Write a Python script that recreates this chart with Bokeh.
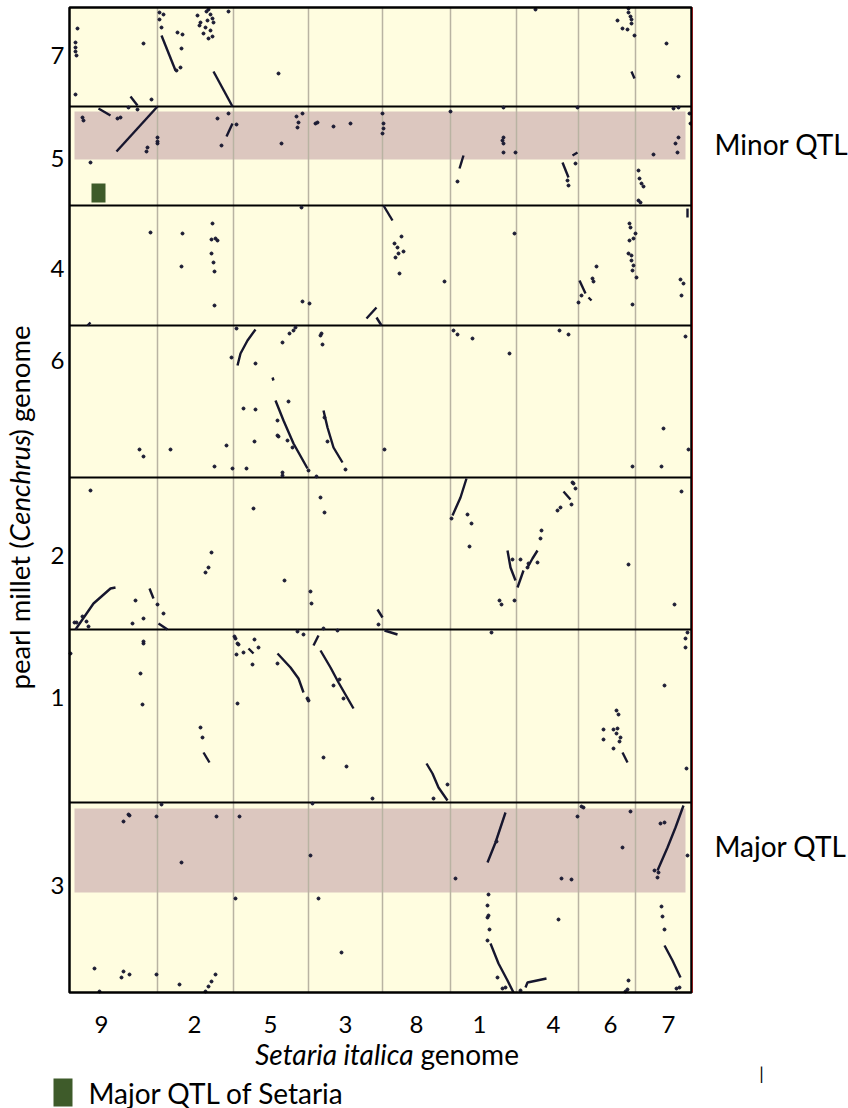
import numpy as np
from bokeh.plotting import figure
from bokeh.models import Range1d
from bokeh.core.properties import value
from bokeh.embed import file_html
from bokeh.resources import INLINE

# ---------------- data ----------------
# Setaria italica chromosomes (x axis, left to right) and lengths (Mb, approx.)
setaria_chroms = ["9", "2", "5", "3", "8", "1", "4", "6", "7"]
setaria_len = [44, 38, 37.5, 37, 34, 33, 31, 28.5, 28]
# Pearl millet chromosomes (y axis, top to bottom) and lengths (Mb, approx.)
millet_chroms = ["7", "5", "4", "6", "2", "1", "3"]
millet_len = [198, 198, 240, 304, 304, 346, 380]

# scattered hits: (setaria chrom, setaria pos Mb, millet pos Mb) per millet chromosome
dots_pm7 = [
    ("9", 3, 70), ("9", 3, 80), ("9", 3, 88), ("9", 3.5, 96), ("9", 4, 42), ("9", 3, 174), ("9", 37, 72), ("9", 41, 184),
    ("2", 1, 10), ("2", 3, 14), ("2", 1, 24), ("2", 2, 40), ("2", 10, 50), ("2", 12.5, 54), ("2", 12, 82), ("2", 11.5, 120), ("2", 9.5, 126),
    ("2", 20, 16), ("2", 21.5, 30), ("2", 21, 36), ("2", 24.5, 8), ("2", 25.5, 4), ("2", 26.5, 14), ("2", 27.5, 22), ("2", 24, 40),
    ("2", 26.5, 46), ("2", 23, 52), ("2", 27.5, 58), ("2", 25.5, 62), ("2", 25, 26), ("2", 28, 30), ("2", 35.5, 8),
    ("5", 22.5, 132), ("4", 9.5, 4),
    ("6", 25, 2), ("6", 25, 10), ("6", 26, 18), ("6", 26.5, 24), ("6", 19.5, 26), ("6", 22, 42), ("6", 24.5, 44), ("6", 26.5, 32), ("6", 28, 56),
    ("7", 15.5, 72), ("7", 21.5, 138),
]
dots_pm5 = [
    ("9", 6.5, 22), ("9", 7, 28), ("9", 25.5, 22), ("9", 24, 24), ("9", 29.5, 2), ("9", 34, 6), ("9", 39, 82), ("9", 38.5, 90),
    ("2", 0, 62), ("2", 0, 70), ("2", 0, 74), ("9", 10.5, 112),
    ("2", 35.5, 14), ("2", 30, 24), ("2", 32, 78), ("5", 1.5, 36), ("5", 24, 74),
    ("5", 31.5, 20), ("5", 32.5, 32), ("5", 32, 42), ("5", 34.5, 14),
    ("3", 3.5, 34), ("3", 4.5, 32), ("3", 12.5, 40), ("3", 21, 34),
    ("8", 0, 14), ("8", 0.5, 34), ("8", 0.5, 44), ("8", 0, 54),
    ("1", 0, 10), ("1", 26.5, 2), ("4", 30.5, 2),
    ("1", 26.5, 62), ("1", 26, 68), ("1", 26.5, 74), ("1", 26.5, 92), ("1", 32.5, 92), ("1", 3.5, 150),
    ("4", 25.5, 148), ("4", 26, 158), ("4", 29.5, 114),
    ("7", 21.5, 62), ("7", 20, 74), ("7", 21, 92), ("7", 9, 96),
    ("7", 1.5, 128), ("7", 2, 144), ("7", 3, 154), ("7", 4, 160), ("7", 1.5, 188), ("7", 2.5, 192),
    ("7", 27, 14), ("7", 27.5, 34), ("7", 19, 4), ("7", 21.5, 2),
]
dots_pm4 = [
    ("9", 40.5, 54), ("2", 12.5, 56), ("2", 12, 122),
    ("2", 27.5, 36), ("2", 27, 68), ("2", 29, 66), ("2", 30, 70), ("2", 27, 96), ("2", 28, 114), ("2", 28.5, 132), ("2", 28.5, 200),
    ("5", 34, 4), ("5", 34.5, 192), ("3", 0.5, 196),
    ("8", 9.5, 62), ("8", 6, 76), ("8", 7.5, 84), ("8", 8, 96), ("8", 10.5, 92), ("8", 6.5, 104), ("8", 8.5, 136), ("8", 31, 152), ("1", 32, 56),
    ("6", 25.5, 36), ("6", 26, 44), ("7", 0, 56), ("6", 27.5, 66), ("6", 25.5, 70), ("6", 25, 96), ("6", 26.5, 100), ("6", 26.5, 110),
    ("6", 27.5, 120), ("6", 27, 130), ("7", 0.5, 144), ("6", 27, 198),
    ("6", 1.5, 180), ("6", 0, 194), ("6", 7, 146), ("6", 7.5, 152), ("6", 9, 122),
    ("7", 22.5, 148), ("7", 24, 156), ("7", 23, 180),
]
dots_pm6 = [
    ("5", 1.5, 6), ("2", 37, 64), ("5", 11, 76), ("5", 24.5, 34), ("5", 28, 16), ("5", 30, 10), ("5", 31, 4),
    ("3", 6.5, 16), ("3", 6, 20), ("3", 7, 38),
    ("5", 27.5, 152), ("5", 22, 190), ("5", 22, 220), ("5", 22.5, 222), ("5", 29.5, 244), ("5", 27, 230),
    ("3", 8, 184), ("3", 18.5, 288), ("3", 9.5, 232),
    ("5", 5, 166), ("5", 11, 168), ("5", 10.5, 232), ("2", 34.5, 240), ("2", 28.5, 282), ("2", 37.5, 286), ("5", 6.5, 286),
    ("9", 35, 248), ("9", 37, 262), ("2", 6.5, 248),
    ("5", 24.5, 294), ("5", 24.5, 300), ("3", 4, 302), ("3", 0, 290),
    ("8", 1, 248),
    ("1", 1.5, 10), ("1", 3.5, 18), ("1", 11, 26), ("1", 29.5, 56),
    ("4", 21.5, 10), ("4", 26, 18), ("7", 25, 22),
    ("7", 14, 206), ("6", 27, 282), ("7", 13, 282), ("7", 26.5, 248),
]
dots_pm2 = [
    ("9", 2.5, 290), ("9", 3.5, 290), ("9", 6.5, 278), ("9", 9.5, 298), ("9", 8.5, 288), ("9", 10.5, 26),
    ("2", 0, 254), ("2", 3, 272), ("9", 33, 246), ("9", 37, 282), ("9", 31.5, 292),
    ("2", 27, 150), ("2", 25.5, 180), ("2", 24, 190),
    ("5", 10, 62), ("5", 25.5, 206), ("3", 6, 40), ("3", 8, 70), ("3", 1, 228), ("3", 1.5, 252),
    ("3", 35, 294), ("3", 7.5, 302),
    ("1", 0.5, 82), ("1", 8.5, 74), ("1", 10.5, 92), ("1", 9.5, 138),
    ("4", 28, 10), ("4", 29.5, 22), ("4", 28.5, 12), ("4", 27.5, 54), ("4", 20.5, 66), ("4", 22, 60), ("4", 12.5, 106), ("4", 12, 122),
    ("1", 31, 164), ("4", 2, 164), ("4", 5.5, 180), ("4", 6, 172), ("1", 24.5, 246), ("1", 25.5, 254), ("1", 32, 246), ("4", 10.5, 170),
    ("6", 25, 174), ("7", 19.5, 254), ("7", 23, 28),
]
dots_pm1 = [
    ("3", 14.5, 2), ("1", 20.5, 6),
    ("9", 0.5, 48), ("9", 37, 24), ("9", 37, 28), ("9", 35.5, 88), ("9", 36.5, 150),
    ("5", 0.5, 14), ("5", 1, 18), ("5", 2, 28), ("5", 2.5, 30), ("5", 1.5, 50), ("5", 5, 46), ("5", 10.5, 20), ("5", 12.5, 36), ("5", 9.5, 70), ("5", 2, 148),
    ("5", 22, 68), ("3", 0, 142), ("5", 37, 138), ("5", 32, 4), ("5", 35, 10),
    ("3", 12.5, 112), ("3", 17.5, 138), ("3", 15.5, 100),
    ("2", 21.5, 196), ("2", 22.5, 216), ("3", 7.5, 256), ("3", 19, 274), ("3", 32, 338),
    ("8", 32.5, 310), ("8", 25.5, 338),
    ("6", 19, 162), ("6", 20, 170), ("6", 17.5, 200), ("6", 19.5, 198), ("6", 19, 208), ("6", 21, 216), ("6", 20.5, 224),
    ("6", 12.5, 200), ("6", 12.5, 220), ("6", 17.5, 238),
    ("7", 14.5, 112), ("7", 25, 18), ("7", 25, 36), ("7", 26, 6), ("7", 25.5, 278),
]
dots_pm3 = [
    ("9", 30, 26), ("9", 27, 38), ("9", 29.5, 24), ("9", 43.5, 28), ("2", 2, 4), ("2", 29.5, 28), ("5", 3, 28), ("2", 12, 120),
    ("3", 1, 106), ("3", 2, 2), ("3", 5, 192), ("5", 1, 192), ("3", 16.5, 300),
    ("9", 12.5, 332), ("9", 27, 338), ("9", 26, 350), ("9", 30, 344), ("9", 43.5, 344), ("2", 11, 364), ("9", 15, 378),
    ("2", 29, 344), ("2", 27, 358), ("2", 25.5, 368), ("2", 24, 378),
    ("1", 23, 78), ("1", 2.5, 152),
    ("6", 1.5, 8), ("6", 2.5, 10), ("4", 30.5, 28), ("6", 26, 18), ("6", 22, 90), ("4", 22.5, 152), ("4", 27.5, 154),
    ("7", 12.5, 42), ("7", 14.5, 40), ("7", 9.5, 136), ("7", 11.5, 140), ("7", 11, 150), ("7", 26, 106),
    ("1", 19, 184), ("1", 18.5, 206), ("1", 19, 226), ("1", 18.5, 230), ("1", 19.5, 254), ("1", 18.5, 276),
    ("1", 23.5, 350), ("1", 26, 372), ("1", 27.5, 370), ("4", 2, 376), ("4", 21, 234),
    ("6", 25, 356), ("6", 24.5, 374), ("6", 23.5, 378),
    ("7", 13, 208), ("7", 13.5, 228), ("7", 14.5, 254), ("7", 20.5, 372), ("7", 22, 370),
]

# collinear blocks: (setaria chrom, [setaria positions], [millet positions]) per millet chromosome
blocks_pm7 = [
    ("9", [30.5, 34], [178, 196]),
    ("2", [2, 9], [56, 126]),
    ("2", [28, 37.5], [128, 198]),
    ("6", [26.5, 28], [128, 142]),
]
blocks_pm5 = [
    ("9", [44, 23.5], [0, 90]),
    ("9", [14.5, 20.5], [4, 18]),
    ("2", [34.5, 37.5], [60, 34]),
    ("1", [6.5, 4.5], [98, 124]),
    ("4", [23, 26], [112, 142]),
    ("4", [28, 30.5], [98, 92]),
]
blocks_pm4 = [
    ("8", [0.5, 5], [0, 30]),
    ("3", [29, 34], [226, 204]),
    ("3", [34, 36.5], [224, 240]),
    ("9", [9, 10.5], [240, 234]),
    ("6", [0.5, 3.5], [150, 176]),
    ("6", [5, 6.5], [184, 190]),
    ("7", [26, 26], [6, 24]),
]
blocks_pm6 = [
    ("5", [11, 7, 3.5, 2], [8, 30, 56, 80]),
    ("5", [21, 25, 30, 37], [150, 190, 236, 286]),
    ("3", [7.5, 9.5, 12.5, 17], [170, 204, 244, 274]),
    ("5", [19.5, 20], [104, 110]),
]
blocks_pm2 = [
    ("9", [3, 12, 20.5, 23], [304, 252, 222, 220]),
    ("9", [40, 42], [222, 242]),
    ("2", [0.5, 5], [292, 304]),
    ("3", [34.5, 37], [264, 280]),
    ("1", [8, 5, 1], [2, 40, 76]),
    ("4", [23.5, 27], [28, 44]),
    ("1", [28.5, 30, 32.5], [146, 180, 206]),
    ("4", [10.5, 8, 5.5], [146, 162, 180]),
    ("4", [3.5, 0.5], [186, 220]),
]
blocks_pm1 = [
    ("8", [1, 7.5], [2, 10]),
    ("5", [22, 28.5, 32.5, 35], [48, 76, 98, 126]),
    ("3", [5, 2.5], [12, 32]),
    ("3", [6, 11, 15, 22.5], [42, 76, 106, 158]),
    ("5", [7.5, 10], [38, 48]),
    ("2", [23, 26], [246, 266]),
    ("8", [22, 25, 28, 32.5], [268, 288, 316, 342]),
    ("6", [22, 24.5], [246, 266]),
]
blocks_pm3 = [
    ("1", [27.5, 25, 22.5, 18.5], [20, 50, 80, 120]),
    ("7", [24, 20, 16, 11], [6, 50, 90, 136]),
    ("1", [20, 24, 28.5, 31.5], [282, 322, 356, 380]),
    ("7", [14.5, 18.5, 22.5], [286, 316, 350]),
    ("4", [4.5, 5.5, 15], [370, 360, 352]),
]

# QTL bands (millet chrom, start, end in Mb) spanning the Setaria genome
minor_qtl = ("5", 10, 106)
major_qtl = ("3", 12, 180)
qtl_x_extent = (2.5, 308)
# Setaria major QTL marker (setaria chr, start, end; shown in millet chr5 row, start, end)
setaria_qtl = ("9", 11, 18, "5", 154, 192)

# text labels
x_title_italic, x_title_plain = "Setaria italica", "genome"
y_title_parts = ["pearl millet (", "Cenchrus", ") genome"]
qtl_labels = ["Minor QTL", "Major QTL"]
legend_label = "Major QTL of Setaria"

# ---------------- layout (canvas pixels) ----------------
W, H = 848, 1108
FL, FR, FT, FB = 69, 691, 7, 992          # plot box
x_tick_px = [101, 194, 270, 345, 416, 479, 553, 610, 668]
x_tick_py = 1024
y_tick_px = 57
y_tick_py = [55, 158, 268, 360, 555, 697, 885]
FONT = "Lato"

# ---------------- derived coordinates ----------------
s_starts = np.concatenate([[0], np.cumsum(setaria_len)[:-1]])
m_starts = np.concatenate([[0], np.cumsum(millet_len)[:-1]])
s_total = float(np.sum(setaria_len))
m_total = float(np.sum(millet_len))
sx0 = dict(zip(setaria_chroms, s_starts))
my0 = dict(zip(millet_chroms, m_starts))

rows = {
    "7": (dots_pm7, blocks_pm7), "5": (dots_pm5, blocks_pm5), "4": (dots_pm4, blocks_pm4),
    "6": (dots_pm6, blocks_pm6), "2": (dots_pm2, blocks_pm2), "1": (dots_pm1, blocks_pm1),
    "3": (dots_pm3, blocks_pm3),
}
dx, dy, bx, by = [], [], [], []
for mc, (dots, blocks) in rows.items():
    for sc, sp, mp in dots:
        dx.append(sx0[sc] + sp)
        dy.append(my0[mc] + mp)
    for sc, spl, mpl in blocks:
        bx.append([sx0[sc] + v for v in spl])
        by.append([my0[mc] + v for v in mpl])

kx = (FR - FL) / s_total
ky = (FB - FT) / m_total
x_rng = Range1d(-FL / kx, s_total + (W - FR) / kx)
y_rng = Range1d(m_total + (H - FB) / ky, -FT / ky)

# ---------------- figure ----------------
p = figure(width=W, height=H, x_range=x_rng, y_range=y_rng,
           x_axis_location=None, y_axis_location=None,
           output_backend="svg", toolbar_location=None, min_border=0,
           background_fill_color="white", border_fill_color="white", outline_line_color=None)
p.grid.visible = False
p.extra_x_ranges = {"px": Range1d(0, W)}
p.extra_y_ranges = {"px": Range1d(H, 0)}

# plot area background
p.quad(left=0, right=s_total, top=0, bottom=m_total, fill_color="#fffde0", line_color=None, level="underlay")
# QTL bands
for mc, a, b in (minor_qtl, major_qtl):
    p.quad(left=qtl_x_extent[0], right=qtl_x_extent[1], top=my0[mc] + a, bottom=my0[mc] + b,
           fill_color="#dcc7bf", line_color=None, level="underlay")
# chromosome boundaries
p.segment(x0=s_starts[1:], y0=0, x1=s_starts[1:], y1=m_total, line_color="#b9b3a2", line_width=1.5, level="underlay")
p.segment(x0=0, y0=m_starts[1:], x1=s_total, y1=m_starts[1:], line_color="black", line_width=2, level="underlay")

# hits
p.multi_line(bx, by, line_color="#16162e", line_width=2.4)
p.scatter(dx, dy, size=3, fill_color="#1b1b33", line_color="#1b1b33")

# Setaria QTL marker
sc, a, b, mc, c, d = setaria_qtl
p.quad(left=sx0[sc] + a, right=sx0[sc] + b, top=my0[mc] + c, bottom=my0[mc] + d,
       fill_color="#3e5b2a", line_color=None)

# frame outline and tinted right edge
p.quad(left=0, right=s_total, top=0, bottom=m_total, fill_color=None, line_color="black", line_width=2.5)
p.segment(x0=s_total + 1 / kx, y0=0, x1=s_total + 1 / kx, y1=m_total, line_color="#8a1c1c", line_width=1)


def txt(xs, ys, texts, size, style="normal", align="center", angle=0.0, xr="px", yr="px"):
    p.text(x=xs, y=ys, text=texts, x_range_name=xr, y_range_name=yr,
           text_font=value(FONT), text_font_size=value(f"{size}px"), text_font_style=style,
           text_align=align, text_baseline="middle", angle=angle, text_color="black")


# chromosome tick labels
txt(x_tick_px, [x_tick_py] * len(x_tick_px), setaria_chroms, 24)
txt([y_tick_px] * len(y_tick_py), y_tick_py, millet_chroms, 24)
# x axis title (mixed italic)
txt([413], [1053], [x_title_italic], 28, "italic", "right")
txt([420], [1053], [x_title_plain], 28, "normal", "left")
# y axis title (rotated, mixed italic)
txt([19], [541], [y_title_parts[0]], 27.5, "normal", "right", np.pi / 2)
txt([19], [541], [y_title_parts[1]], 27.5, "italic", "left", np.pi / 2)
txt([19], [436], [y_title_parts[2]], 27.5, "normal", "left", np.pi / 2)
# QTL annotations
txt([714, 714], [143, 845], qtl_labels, 28, "normal", "left")
# legend
p.quad(left=53, right=72, top=1078, bottom=1106, x_range_name="px", y_range_name="px",
       fill_color="#3e5b2a", line_color=None)
txt([88], [1092], [legend_label], 28, "normal", "left")
txt([761], [1072], ["|"], 18, "normal", "center")

open("out.html", "w").write(file_html(p, INLINE))
